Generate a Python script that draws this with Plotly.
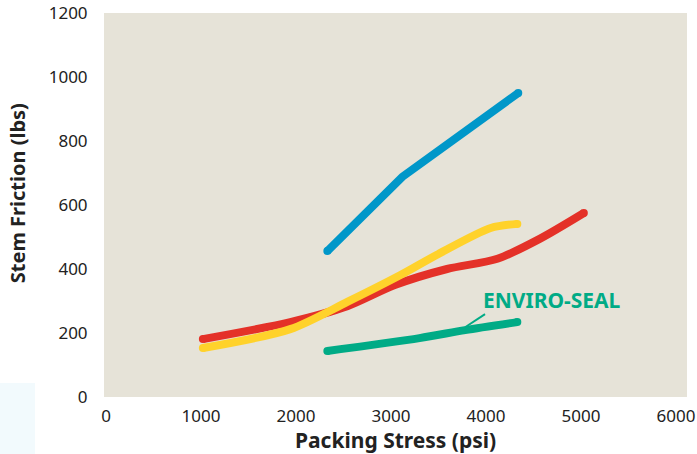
import plotly.graph_objects as go

# Data
blue_x = [2330, 3120, 4340]
blue_y = [456, 688, 950]

red_x = [1020, 1940, 2540, 3040, 3590, 4120, 4570, 5030]
red_y = [181, 234, 284, 350, 400, 432, 495, 575]

yellow_x = [1020, 1940, 2540, 3100, 3500, 4050, 4330]
yellow_y = [153, 212, 297, 381, 447, 528, 541]

green_x = [2330, 3300, 3780, 4330]
green_y = [144, 184, 209, 234]

x_ticks = [0, 1000, 2000, 3000, 4000, 5000, 6000]
y_ticks = [0, 200, 400, 600, 800, 1000, 1200]

label_text = "ENVIRO-SEAL"
x_title = "Packing Stress (psi)"
y_title = "Stem Friction (lbs)"

BLUE = "#0097c9"
RED = "#e43128"
YELLOW = "#ffd22b"
GREEN = "#00ab86"
BG = "#e6e3d8"
FONT = "Noto Sans"
LW = 8

fig = go.Figure()
series = [(green_x, green_y, GREEN, "spline"),
          (red_x, red_y, RED, "spline"),
          (yellow_x, yellow_y, YELLOW, "spline"),
          (blue_x, blue_y, BLUE, "linear")]
for xs, ys, c, shp in series:
    fig.add_trace(go.Scatter(x=xs, y=ys, mode="lines",
                             line=dict(color=c, width=LW, shape=shp, smoothing=0.8),
                             hoverinfo="skip"))
    # round caps at the ends
    fig.add_trace(go.Scatter(x=[xs[0], xs[-1]], y=[ys[0], ys[-1]], mode="markers",
                             marker=dict(color=c, size=LW, line=dict(width=0)),
                             hoverinfo="skip"))

# label with leader line
fig.add_annotation(x=4695, y=303, text="<b>" + label_text + "</b>", showarrow=False,
                   font=dict(family=FONT, size=21, color=GREEN))
fig.add_shape(type="line", x0=3780, y0=218, x1=3990, y1=259,
              line=dict(color=GREEN, width=2))

# axis titles
fig.add_annotation(xref="paper", yref="paper", x=0.5, y=-0.112, text="<b>" + x_title + "</b>",
                   showarrow=False, font=dict(family=FONT, size=21, color="#222222"),
                   xanchor="center", yanchor="middle")
fig.add_annotation(xref="paper", yref="paper", x=-0.149, y=0.531, text="<b>" + y_title + "</b>",
                   showarrow=False, textangle=-90, font=dict(family=FONT, size=20, color="#222222"),
                   xanchor="center", yanchor="middle")

# faint light-blue patch in bottom-left corner of the reference
fig.add_shape(type="rect", xref="paper", yref="paper", x0=-0.1784, x1=-0.1184,
              y0=-0.1484, y1=0.0365, fillcolor="#f2fafd", line=dict(width=0), layer="below")

fig.update_layout(
    width=697, height=454,
    margin=dict(l=104, r=10, t=13, b=57, autoexpand=False),
    paper_bgcolor="white", plot_bgcolor=BG,
    showlegend=False,
    font=dict(family=FONT, size=17, color="#222222"),
)
fig.update_xaxes(range=[-21, 6116], tickvals=x_ticks, showgrid=False, zeroline=False,
                 showline=False, ticks="outside", ticklen=4, tickcolor="rgba(0,0,0,0)",
                 tickfont=dict(size=17), automargin=False)
fig.update_yaxes(range=[0, 1200], tickvals=y_ticks, showgrid=False, zeroline=False,
                 showline=False, ticks="outside", ticklen=12, tickcolor="rgba(0,0,0,0)",
                 tickfont=dict(size=17), automargin=False)

fig.write_html("out.html", config={"displayModeBar": False},
               post_script="document.body.style.margin='0px';document.body.style.overflow='hidden';")
